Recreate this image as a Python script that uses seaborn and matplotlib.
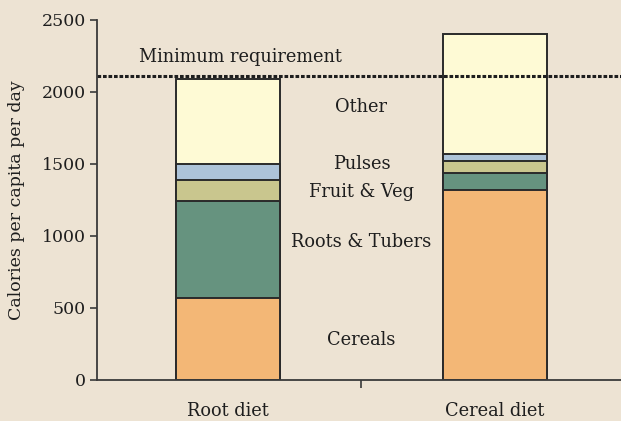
import pandas as pd
import matplotlib.pyplot as plt
import seaborn as sns

# calories per capita per day
diets = ['Root diet', 'Cereal diet']
components = ['Cereals', 'Roots & Tubers', 'Fruit & Veg', 'Pulses', 'Other']
cereals = [570, 1320]
roots_tubers = [670, 115]
fruit_veg = [150, 85]
pulses = [110, 50]
other = [590, 830]
min_requirement = 2110

colors = ['#f3b776', '#66937f', '#c9c68e', '#adc3d8', '#fefad5']
label_y = [278, 958, 1306, 1500, 1896]
bg = '#ede3d3'

df = pd.DataFrame({'diet': diets, 'Cereals': cereals, 'Roots & Tubers': roots_tubers,
                   'Fruit & Veg': fruit_veg, 'Pulses': pulses, 'Other': other})
cum = df[components].cumsum(axis=1)
cum['diet'] = df['diet']

sns.set_style('ticks')
plt.rcParams['font.family'] = ['DejaVu Serif']
plt.rcParams['text.color'] = '#1e1e1e'

fig = plt.figure(figsize=(6.21, 4.21), dpi=100)
fig.patch.set_facecolor(bg)
ax = fig.add_axes([97 / 621, 41 / 421, 534 / 621, 360 / 421])
ax.set_facecolor(bg)

# stacked bars: draw cumulative totals from tallest to shortest
for comp, col in reversed(list(zip(components, colors))):
    sns.barplot(data=cum, x='diet', y=comp, color=col, width=0.39,
                edgecolor='#2a2a2a', linewidth=1.4, saturation=1, ax=ax)

ax.set_xlim(-0.49, 1.51)
ax.set_ylim(0, 2500)
ax.set_yticks([0, 500, 1000, 1500, 2000, 2500])

ax.axhline(min_requirement, color='#1e1e1e', linestyle=(0, (1.2, 0.6)), linewidth=2.2, clip_on=False)
ax.text(0.047, 2243, 'Minimum requirement', ha='center', va='center', fontsize=12.8)

for comp, y in zip(components, label_y):
    ax.text(0.5, y, comp, ha='center', va='center', fontsize=12.8)

ax.set_xticks([0.5])
ax.set_xticklabels([''])
ax.set_xticks([0, 1], minor=True)
ax.set_xticklabels(diets, minor=True)
ax.tick_params(axis='x', which='major', length=6, width=1.2, color='#3a3a3a')
ax.tick_params(axis='x', which='minor', length=0, pad=16, labelsize=12.8,
               labelcolor='#1e1e1e')
ax.tick_params(axis='y', length=5, width=1.2, color='#3a3a3a', labelsize=12.5, pad=3,
               labelcolor='#1e1e1e')

ax.set_xlabel('')
ax.set_ylabel('Calories per capita per day', fontsize=12.5, labelpad=12, color='#1e1e1e')

sns.despine(ax=ax)
for s in ['left', 'bottom']:
    ax.spines[s].set_color('#3a3a3a')
    ax.spines[s].set_linewidth(1.3)

fig.savefig('out.png', dpi=100, facecolor=bg)
